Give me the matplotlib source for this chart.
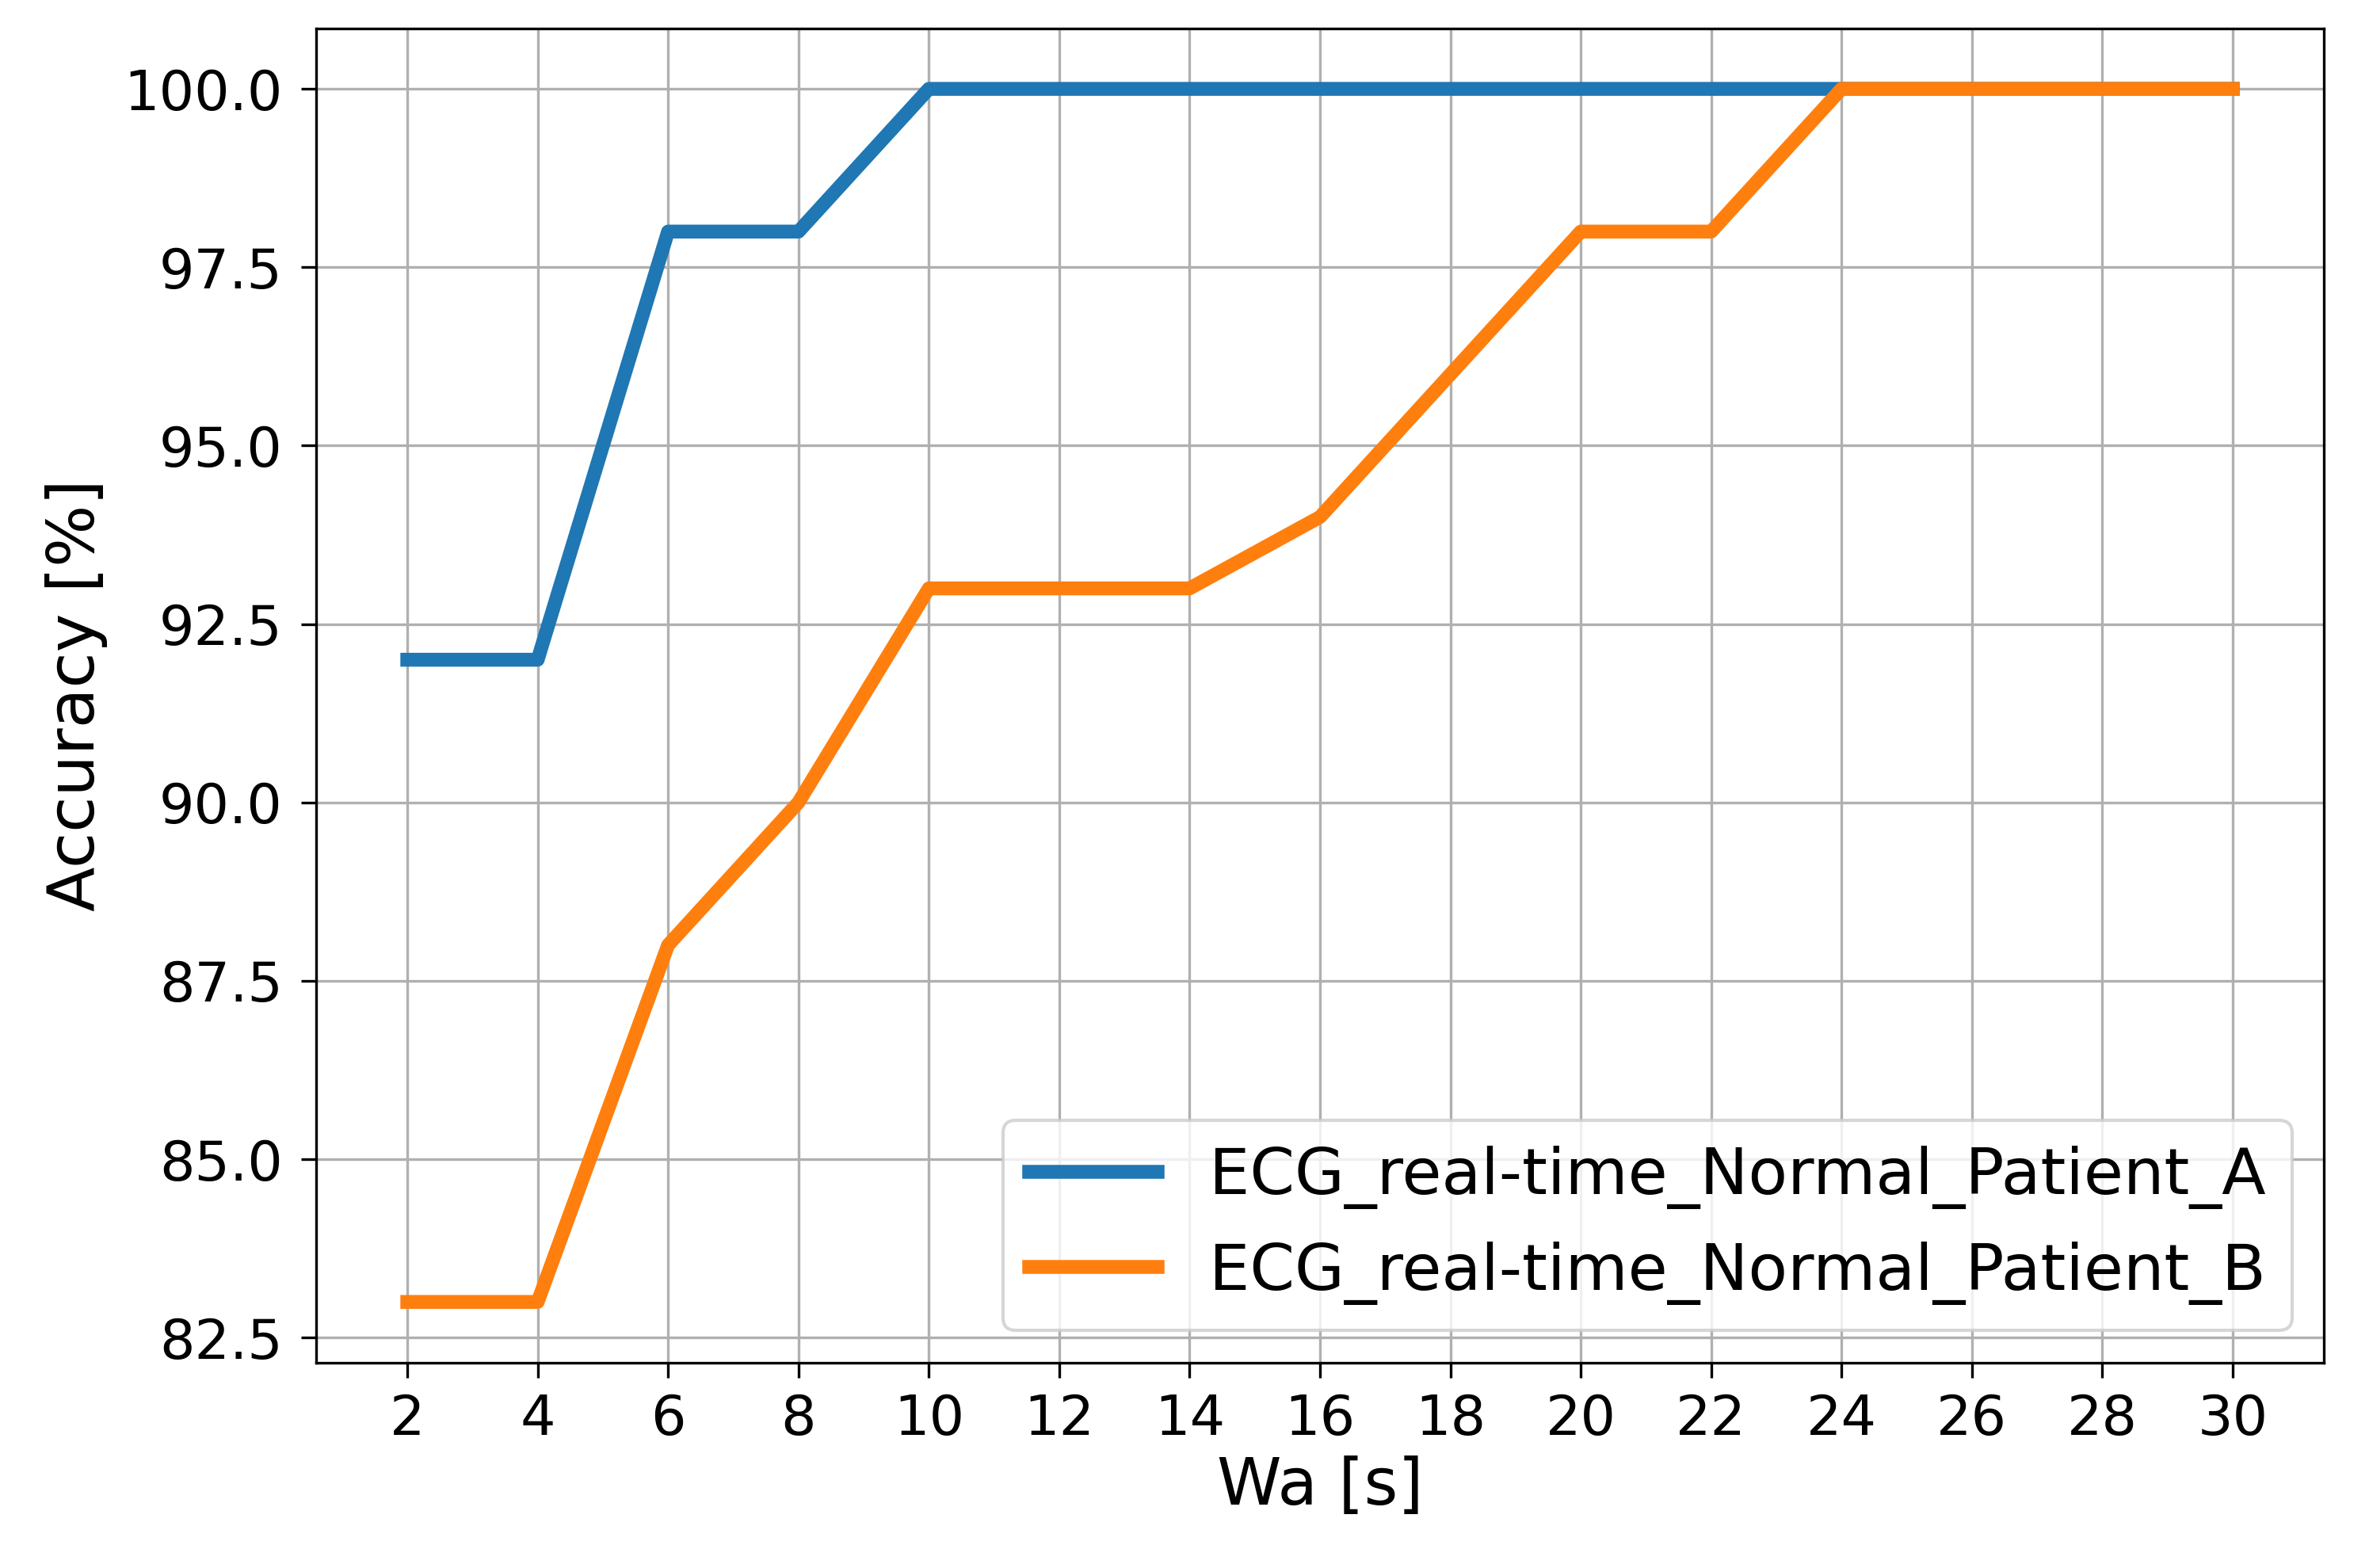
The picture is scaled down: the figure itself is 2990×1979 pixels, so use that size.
import numpy as np
import matplotlib
matplotlib.use("Agg")
import matplotlib.pyplot as plt

# window length Wa [s]
wa = [2, 4, 6, 8, 10, 12, 14, 16, 18, 20, 22, 24, 26, 28, 30]

# accuracy [%] per patient
acc_a = [92, 92, 98, 98, 100, 100, 100, 100, 100, 100, 100, 100, 100, 100, 100]
acc_b = [83, 83, 88, 90, 93, 93, 93, 94, 96, 98, 98, 100, 100, 100, 100]

labels = ["ECG_real-time_Normal_Patient_A", "ECG_real-time_Normal_Patient_B"]

fig = plt.figure(figsize=(2990 / 300, 1979 / 300), dpi=300)
ax = fig.add_axes([0.1334, 0.131, 0.8476, 0.851])

ax.plot(wa, acc_a, label=labels[0], color="#1f77b4", linewidth=4.2)
ax.plot(wa, acc_b, label=labels[1], color="#ff7f0e", linewidth=4.2)

ax.set_xticks(wa)
ax.tick_params(axis="both", labelsize=16.8, length=4.6)
ax.tick_params(axis="y", pad=5.5)
ax.tick_params(axis="x", pad=4.5)
ax.set_xlabel("Wa [s]", fontsize=19.8, labelpad=3)
ax.set_ylabel("Accuracy [%]", fontsize=19.8, labelpad=5)
ax.grid(True)
ax.legend(loc="lower right", fontsize=19.5)

fig.savefig("out.png", dpi=300)
